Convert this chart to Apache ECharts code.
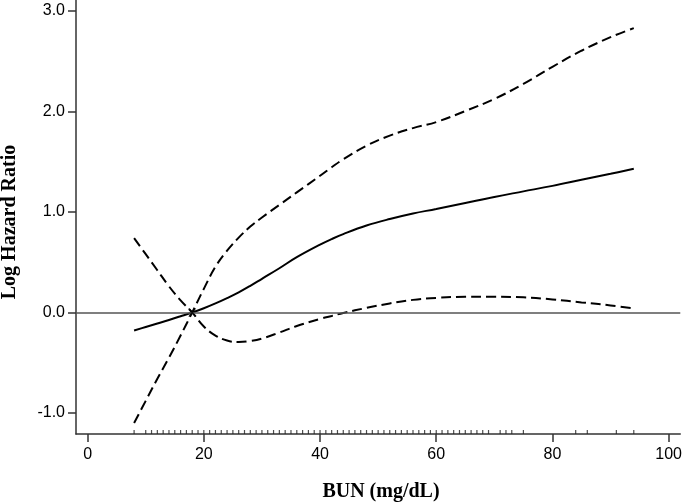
<!DOCTYPE html>
<html>
<head>
<meta charset="utf-8">
<script src="https://cdn.jsdelivr.net/npm/echarts@6/dist/echarts.min.js"></script>
<style>
html,body{margin:0;padding:0;background:#fff;}
#chart{width:685px;height:504px;}
</style>
</head>
<body>
<div id="chart"></div>
<script>
// BUN values (mg/dL)
var bun = [8, 10, 12, 14, 16, 18, 20, 22, 24, 26, 28, 30, 33, 36, 40, 42, 44, 48, 52, 56, 60, 65, 70, 75, 80, 85, 90, 94];
// Log hazard ratio estimate
var fit = [-0.18, -0.145, -0.11, -0.075, -0.038, 0, 0.042, 0.09, 0.143, 0.20, 0.265, 0.335, 0.44, 0.55, 0.675, 0.73, 0.78, 0.865, 0.93, 0.985, 1.03, 1.09, 1.15, 1.205, 1.26, 1.32, 1.38, 1.43];
// Confidence band (dashed)
var lower = [0.74, 0.58, 0.42, 0.26, 0.12, 0, -0.14, -0.23, -0.28, -0.295, -0.285, -0.26, -0.20, -0.135, -0.065, -0.035, -0.005, 0.045, 0.09, 0.125, 0.145, 0.155, 0.155, 0.15, 0.13, 0.10, 0.07, 0.04];
var upper = [-1.10, -0.88, -0.66, -0.45, -0.23, 0, 0.235, 0.455, 0.615, 0.745, 0.855, 0.945, 1.07, 1.195, 1.36, 1.445, 1.525, 1.66, 1.76, 1.835, 1.895, 2.005, 2.125, 2.275, 2.445, 2.605, 2.74, 2.83];
// Observed BUN values (rug)
var rug = [8, 10, 11, 12, 13, 14, 15, 16, 17, 18, 19, 20, 21, 22, 23, 24, 25, 26, 27, 28, 29, 30, 31, 32, 33, 34, 35, 36, 37, 38, 39, 40, 41, 42, 43, 44, 45, 46, 47, 48, 49, 50, 51, 52, 53, 54, 55, 56, 57, 58, 59, 60, 61, 62, 63, 64, 65, 66, 67, 68, 69, 71, 72, 73, 75, 84, 86, 91, 94];
// Reference point
var refPoint = [18, 0];
// Tick labels
var xTicks = [0, 20, 40, 60, 80, 100];
var yTicks = [-1, 0, 1, 2, 3];

var X_MIN = -2, X_MAX = 102, Y_MIN = -1.21, Y_MAX = 3.11;

function pairs(xs, ys) { return xs.map(function (x, i) { return [x, ys[i]]; }); }

var chart = echarts.init(document.getElementById('chart'), null, {renderer: 'canvas'});
var axisCol = '#333';
chart.setOption({
  animation: false,
  backgroundColor: '#fff',
  grid: {left: 76, right: 3, top: 0, bottom: 70, containLabel: false},
  xAxis: {
    type: 'value', min: X_MIN, max: X_MAX,
    axisLine: {show: true, onZero: false, lineStyle: {color: axisCol, width: 1.5}},
    axisTick: {show: true, length: 8, inside: false, customValues: xTicks, lineStyle: {color: axisCol, width: 1.5}},
    axisLabel: {show: true, customValues: xTicks, margin: 13, color: '#000', fontSize: 16, fontFamily: 'Liberation Sans, Arial, sans-serif'},
    splitLine: {show: false}
  },
  yAxis: {
    type: 'value', min: Y_MIN, max: Y_MAX,
    axisLine: {show: true, onZero: false, lineStyle: {color: axisCol, width: 1.5}},
    axisTick: {show: true, length: 8, inside: false, customValues: yTicks, lineStyle: {color: axisCol, width: 1.5}},
    axisLabel: {show: true, customValues: yTicks, margin: 11, color: '#000', fontSize: 16, fontFamily: 'Liberation Sans, Arial, sans-serif',
      formatter: function (v) { return v.toFixed(1); }},
    splitLine: {show: false}
  },
  graphic: [
    {type: 'text', x: 10, y: 222, rotation: Math.PI / 2,
      style: {text: 'Log Hazard Ratio', font: 'bold 20px "Liberation Serif", "Times New Roman", serif', fill: '#000', align: 'center', verticalAlign: 'middle'}},
    {type: 'text', x: 381, y: 492,
      style: {text: 'BUN (mg/dL)', font: 'bold 20px "Liberation Serif", "Times New Roman", serif', fill: '#000', align: 'center', verticalAlign: 'middle'}}
  ],
  series: [
    {
      type: 'line', name: 'zero', data: [], silent: true,
      markLine: {silent: true, symbol: ['none', 'none'], label: {show: false},
        lineStyle: {color: '#555', width: 1.5, type: 'solid'}, data: [{yAxis: 0}]}
    },
    {type: 'line', name: 'lower', data: pairs(bun, lower), smooth: 0.4, showSymbol: false,
      lineStyle: {color: '#000', width: 2, type: [10, 5]}},
    {type: 'line', name: 'upper', data: pairs(bun, upper), smooth: 0.4, showSymbol: false,
      lineStyle: {color: '#000', width: 2, type: [10, 5]}},
    {type: 'line', name: 'fit', data: pairs(bun, fit), smooth: 0.4, showSymbol: false,
      lineStyle: {color: '#000', width: 2, type: 'solid'}},
    {type: 'scatter', name: 'ref', data: [refPoint], symbol: 'path://M0,0 L2,0 L5,3.5 L8,0 L10,0 L6,5 L10,10 L8,10 L5,6.5 L2,10 L0,10 L4,5 Z',
      symbolSize: 8, itemStyle: {color: '#000'}, silent: true, z: 5},
    {type: 'scatter', name: 'rug', data: rug.map(function (v) { return [v, Y_MIN]; }), symbol: 'rect',
      symbolSize: [1.2, 4], symbolOffset: [0, -2], itemStyle: {color: '#222'}, silent: true, clip: false}
  ]
});
</script>
</body>
</html>
